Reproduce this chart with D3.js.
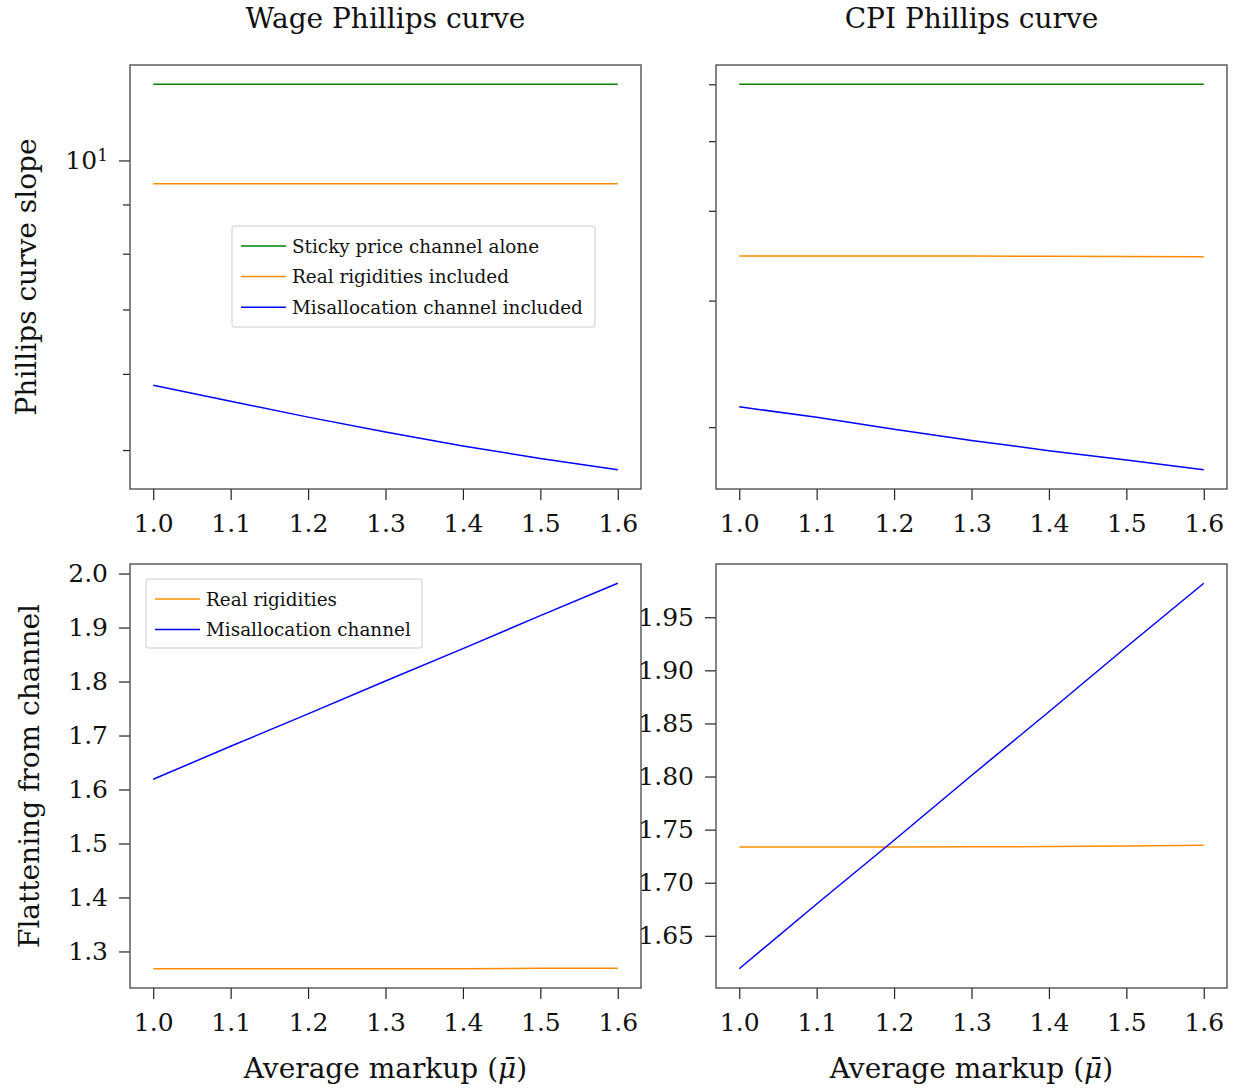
<!DOCTYPE html>
<html>
<head>
<meta charset="utf-8">
<script src="https://cdn.jsdelivr.net/npm/d3@7"></script>
<style>
  body { margin: 0; background: #fff; }
  svg text { font-family: "DejaVu Serif", "Liberation Serif", serif; fill: #111; }
</style>
</head>
<body>
<svg id="chart" width="1235" height="1091"></svg>
<script>
(() => {
    // x values (average markup)
    const markups = [1.0, 1.1, 1.2, 1.3, 1.4, 1.5, 1.6];

    // top row: Phillips curve slope (log scale)
    const wageSticky = [12.0, 12.0, 12.0, 12.0, 12.0, 12.0, 12.0];
    const wageReal = [9.46, 9.46, 9.46, 9.46, 9.46, 9.46, 9.46];
    const wageMisalloc = [5.84, 5.62, 5.41, 5.22, 5.05, 4.90, 4.77];
    const cpiSticky = [6.0, 6.0, 6.0, 6.0, 6.0, 6.0, 6.0];
    const cpiReal = [3.46, 3.46, 3.46, 3.46, 3.458, 3.455, 3.452];
    const cpiMisalloc = [2.135, 2.064, 1.987, 1.917, 1.855, 1.800, 1.745];

    // bottom row: flattening from channel
    const wageFlatReal = [1.268, 1.268, 1.268, 1.268, 1.268, 1.269, 1.269];
    const wageFlatMisalloc = [1.619, 1.680, 1.740, 1.801, 1.861, 1.922, 1.982];
    const cpiFlatReal = [1.7337, 1.7337, 1.7337, 1.7338, 1.7340, 1.7345, 1.7353];
    const cpiFlatMisalloc = [1.619, 1.680, 1.740, 1.801, 1.861, 1.922, 1.982];

    // tick values
    const xTicks = [1.0, 1.1, 1.2, 1.3, 1.4, 1.5, 1.6];
    const wageLogMajor = [10];
    const wageLogMinor = [5, 6, 7, 8, 9];
    const cpiLogMinor = [2, 3, 4, 5, 6];
    const wageFlatTicks = [1.3, 1.4, 1.5, 1.6, 1.7, 1.8, 1.9, 2.0];
    const cpiFlatTicks = [1.65, 1.70, 1.75, 1.80, 1.85, 1.90, 1.95];

    const topLegend = ["Sticky price channel alone", "Real rigidities included", "Misallocation channel included"];
    const bottomLegend = ["Real rigidities", "Misallocation channel"];

    const colors = {green: "#008000", orange: "#ff8c00", blue: "#0000ff"};

    const svg = d3.select("#chart");
    const panelW = 511;
    const panelH = 424;
    const cols = [130, 716];
    const rows = [65, 564];

    // 5% margins like matplotlib autoscale
    const padDomain = (vals, log) => {
      let lo = d3.min(vals), hi = d3.max(vals);
      if (log) {
        const a = Math.log10(lo), b = Math.log10(hi), m = (b - a) * 0.05;
        return [Math.pow(10, a - m), Math.pow(10, b + m)];
      }
      const m = (hi - lo) * 0.05;
      return [lo - m, hi + m];
    };

    const xDomain = padDomain(markups, false);

    const styleAxis = (axisG, size) => {
      axisG.select(".domain").remove();
      axisG.selectAll(".tick line").attr("stroke", "#222").attr("stroke-width", 1.2);
      axisG.selectAll(".tick text")
        .style("font-size", size + "px")
        .attr("fill", "#111");
      axisG.attr("font-family", null).attr("font-size", null);
    };

    const drawPanel = (col, row, opts) => {
      const g = svg.append("g").attr("transform", "translate(" + cols[col] + "," + rows[row] + ")");
      const x = d3.scaleLinear().domain(xDomain).range([0, panelW]);
      const allVals = d3.merge(opts.series.map(s => s.values));
      const y = (opts.log ? d3.scaleLog() : d3.scaleLinear())
        .domain(padDomain(allVals, opts.log)).range([panelH, 0]);

      // x axis
      const xa = g.append("g")
        .attr("transform", "translate(0," + panelH + ")")
        .call(d3.axisBottom(x).tickValues(xTicks).tickSize(11).tickPadding(14).tickFormat(d3.format(".1f")));
      styleAxis(xa, 25);

      // y axis
      if (opts.majorTicks) {
        const ya = g.append("g")
          .call(d3.axisLeft(y).tickValues(opts.majorTicks).tickSize(11).tickPadding(11)
            .tickFormat(opts.tickFormat || (() => "")));
        styleAxis(ya, 25);
        if (opts.superLabel) {
          ya.selectAll(".tick text").text(null).each(function() {
            const t = d3.select(this);
            t.append("tspan").text("10");
            t.append("tspan").attr("dy", "-0.45em").style("font-size", "17px").text("1");
          });
        }
      }
      if (opts.minorTicks) {
        const ym = g.append("g")
          .call(d3.axisLeft(y).tickValues(opts.minorTicks).tickSize(7).tickFormat(() => ""));
        styleAxis(ym, 25);
      }

      const line = d3.line().x((d, i) => x(markups[i])).y(d => y(d));
      opts.series.forEach(s => {
        g.append("path")
          .datum(s.values)
          .attr("fill", "none")
          .attr("stroke", s.color)
          .attr("stroke-width", 1.5)
          .attr("d", line);
      });

      // frame
      g.append("rect")
        .attr("width", panelW).attr("height", panelH)
        .attr("fill", "none").attr("stroke", "#444").attr("stroke-width", 1.3);

      if (opts.legend) {
        const L = opts.legend;
        const lg = g.append("g").attr("transform", "translate(" + L.x + "," + L.y + ")");
        lg.append("rect")
          .attr("width", L.w).attr("height", L.h).attr("rx", 2)
          .attr("fill", "#fff").attr("fill-opacity", 0.8)
          .attr("stroke", "#ccc").attr("stroke-width", 1);
        L.labels.forEach((label, i) => {
          const cy = L.firstRow + i * L.rowGap;
          lg.append("line")
            .attr("x1", L.lineX).attr("x2", L.lineX + 45)
            .attr("y1", cy).attr("y2", cy)
            .attr("stroke", L.colors[i]).attr("stroke-width", 1.5);
          lg.append("text")
            .attr("x", L.lineX + 51).attr("y", cy)
            .attr("dominant-baseline", "central")
            .style("font-size", "18.4px")
            .text(label);
        });
      }

      if (opts.title) {
        g.append("text")
          .attr("x", panelW / 2).attr("y", -37)
          .attr("text-anchor", "middle")
          .style("font-size", "28px")
          .text(opts.title);
      }
      if (opts.ylabel) {
        g.append("text")
          .attr("transform", "translate(" + (opts.ylabelX - cols[col]) + "," + (panelH / 2) + ") rotate(-90)")
          .attr("text-anchor", "middle")
          .style("font-size", "28px")
          .text(opts.ylabel);
      }
      if (opts.xlabel) {
        const t = g.append("text")
          .attr("x", panelW / 2).attr("y", panelH + 90)
          .attr("text-anchor", "middle")
          .style("font-size", "28px");
        t.append("tspan").text("Average markup (");
        t.append("tspan").style("font-style", "italic").text("\u03BC\u0304");
        t.append("tspan").text(")");
      }
    };

    drawPanel(0, 0, {
      log: true,
      title: "Wage Phillips curve",
      ylabel: "Phillips curve slope",
      ylabelX: 36,
      majorTicks: wageLogMajor,
      tickFormat: () => "10",
      superLabel: true,
      minorTicks: wageLogMinor,
      series: [
        {values: wageSticky, color: colors.green},
        {values: wageReal, color: colors.orange},
        {values: wageMisalloc, color: colors.blue}
      ],
      legend: {
        x: 102, y: 161, w: 363, h: 101, firstRow: 20, rowGap: 30.6, lineX: 9,
        labels: topLegend, colors: [colors.green, colors.orange, colors.blue]
      }
    });

    drawPanel(1, 0, {
      log: true,
      title: "CPI Phillips curve",
      minorTicks: cpiLogMinor,
      series: [
        {values: cpiSticky, color: colors.green},
        {values: cpiReal, color: colors.orange},
        {values: cpiMisalloc, color: colors.blue}
      ]
    });

    drawPanel(0, 1, {
      log: false,
      ylabel: "Flattening from channel",
      ylabelX: 39,
      xlabel: true,
      majorTicks: wageFlatTicks,
      tickFormat: d3.format(".1f"),
      series: [
        {values: wageFlatReal, color: colors.orange},
        {values: wageFlatMisalloc, color: colors.blue}
      ],
      legend: {
        x: 16, y: 15, w: 276, h: 69, firstRow: 20, rowGap: 30.4, lineX: 9,
        labels: bottomLegend, colors: [colors.orange, colors.blue]
      }
    });

    drawPanel(1, 1, {
      log: false,
      xlabel: true,
      majorTicks: cpiFlatTicks,
      tickFormat: d3.format(".2f"),
      series: [
        {values: cpiFlatReal, color: colors.orange},
        {values: cpiFlatMisalloc, color: colors.blue}
      ]
    });
})();
</script>
</body>
</html>
